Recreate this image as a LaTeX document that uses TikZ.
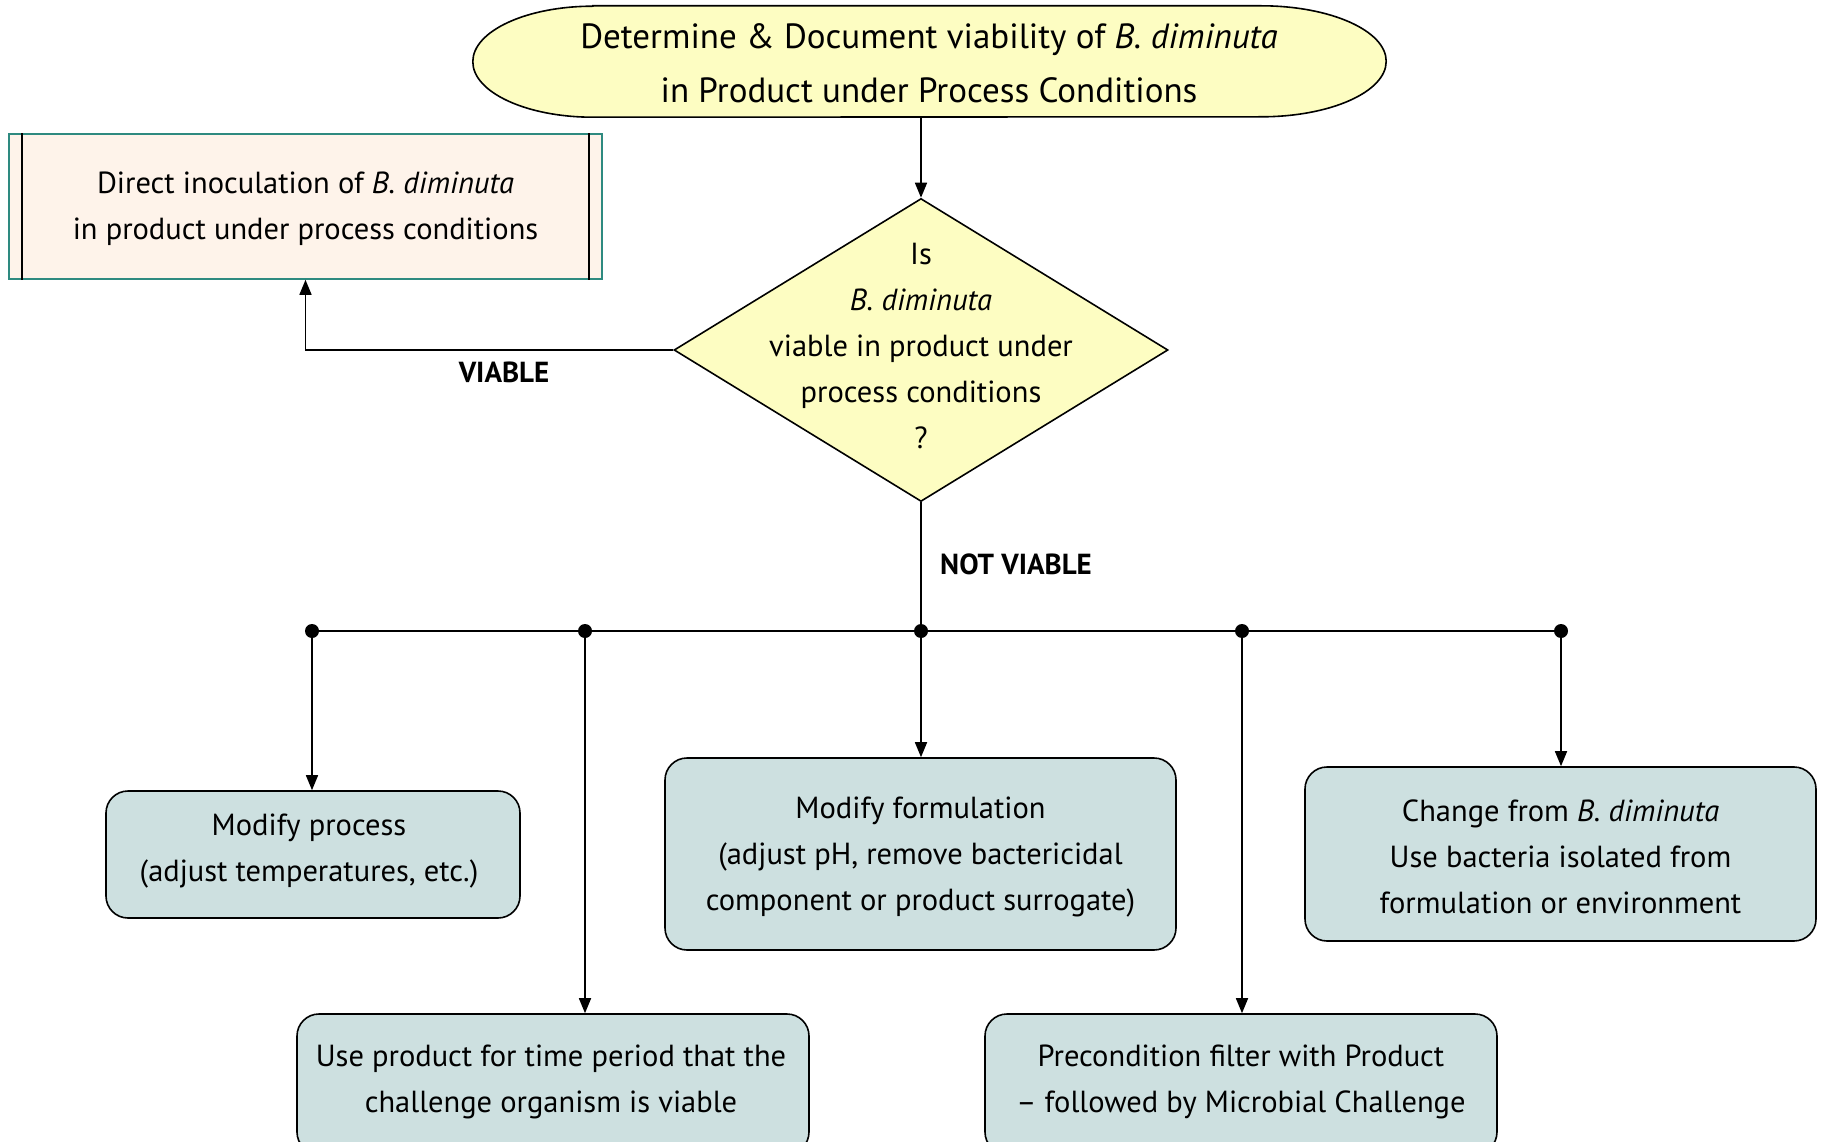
\documentclass[tikz,border=0pt]{standalone}
\usepackage{fontspec}
\setmainfont{PT Sans}
\usetikzlibrary{shapes.geometric,arrows.meta,calc}
\definecolor{yel}{HTML}{FDFDC2}
\definecolor{peach}{HTML}{FEF3EA}
\definecolor{tealb}{HTML}{2E8A80}
\definecolor{boxc}{HTML}{CDE0E0}
\tikzset{
  txt/.style={font=\fontsize{30.5}{46}\selectfont, align=center, inner sep=0pt},
  action/.style={draw=black, line width=1.6pt, fill=boxc, rounded corners=22pt, inner sep=0pt},
  conn/.style={line width=1.6pt, -{Triangle[length=15pt,width=12pt]}},
  plain/.style={line width=1.6pt},
  dot/.style={circle, fill=black, minimum size=14pt, inner sep=0pt},
  lbl/.style={font=\fontsize{29}{32}\selectfont\bfseries, inner sep=0pt}
}
\begin{document}
\begin{tikzpicture}[x=1pt,y=-1pt]
\useasboundingbox (0,0) rectangle (1821,1142);
\clip (0,0) rectangle (1821,1142);
% start terminator (flat top/bottom with elliptical ends)
\node[minimum width=913pt, minimum height=111pt, inner sep=0pt] (start) at (929.5,61.5) {};
\draw[line width=1.6pt, fill=yel]
  ([xshift=120pt]start.north west) -- ([xshift=-125pt]start.north east)
  arc[start angle=90, end angle=-90, x radius=125pt, y radius=55.5pt]
  -- ([xshift=120pt]start.south west)
  arc[start angle=270, end angle=90, x radius=120pt, y radius=55.5pt] -- cycle;
\node[font=\fontsize{35}{54}\selectfont, align=center, inner sep=0pt] (starttxt) at (929,63)
  {Determine \& Document viability of \textit{B. diminuta}\\in Product under Process Conditions};
% decision diamond
\node[diamond, draw=black, line width=1.6pt, fill=yel, minimum width=494pt, minimum height=303pt, inner sep=0pt] (dec) at (921,350) {};
\node[txt] (dectxt) at (921,346) {Is\\\textit{B. diminuta}\\viable in product under\\process conditions\\?};
% left box
\node[draw=tealb, line width=1.6pt, fill=peach, minimum width=593pt, minimum height=145pt, inner sep=0pt] (lb) at (305.5,206.5) {};
\node[txt] (lbtxt) at (305.5,209) {Direct inoculation of \textit{B. diminuta}\\in product under process conditions};
\draw[line width=1.6pt] ([xshift=14pt]lb.north west) -- ([xshift=14pt]lb.south west);
\draw[line width=1.6pt] ([xshift=-14pt]lb.north east) -- ([xshift=-14pt]lb.south east);
% action boxes
\node[action, minimum width=414pt, minimum height=127pt] (b1) at (313,854.5) {};
\node[txt] (b1t) at (309,851) {Modify process\\(adjust temperatures, etc.)};
\node[action, minimum width=511pt, minimum height=192pt] (b3) at (920.5,854) {};
\node[txt] (b3t) at (920.5,857) {Modify formulation\\(adjust pH, remove bactericidal\\component or product surrogate)};
\node[action, minimum width=511pt, minimum height=174pt] (b5) at (1560.5,854) {};
\node[txt] (b5t) at (1560.5,857) {Change from \textit{B. diminuta}\\Use bacteria isolated from\\formulation or environment};
\node[action, minimum width=512pt, minimum height=140pt] (b2) at (553,1084) {};
\node[txt] (b2t) at (551,1082) {Use product for time period that the\\challenge organism is viable};
\node[action, minimum width=512pt, minimum height=140pt] (b4) at (1241,1084) {};
\node[txt] (b4t) at (1241,1082) {Precondition filter with Product\\-- followed by Microbial Challenge};
% dots
\node[dot] (d1) at (312,631) {};
\node[dot] (d2) at (585,631) {};
\node[dot] (d3) at (921,631) {};
\node[dot] (d4) at (1242,631) {};
\node[dot] (d5) at (1561,631) {};
% connectors
\draw[conn] (start.south -| dec.north) -- (dec.north);
\draw[conn] (dec.west) -| (lb.south);
\node[lbl] (vlbl) at (504,372) {VIABLE};
\draw[plain] (dec.south) -- (d3.center);
\node[lbl] (nvlbl) at (1016,564) {NOT VIABLE};
\draw[plain] (d1.center) -- (d5.center);
\draw[conn] (d1.center) -- (d1.center |- b1.north);
\draw[conn] (d2.center) -- (d2.center |- b2.north);
\draw[conn] (d3.center) -- (d3.center |- b3.north);
\draw[conn] (d4.center) -- (d4.center |- b4.north);
\draw[conn] (d5.center) -- (d5.center |- b5.north);
\end{tikzpicture}
\end{document}
